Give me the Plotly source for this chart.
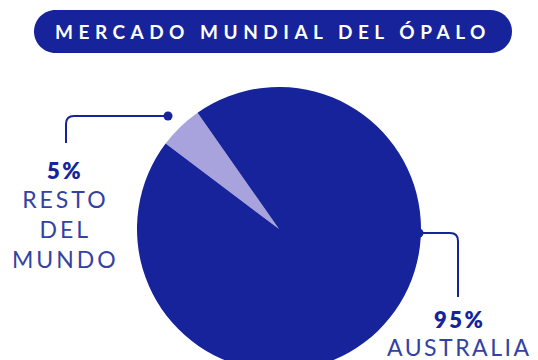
import plotly.graph_objects as go

# Opal world market shares (%)
labels = ["RESTO DEL MUNDO", "AUSTRALIA"]
shares = [5, 95]
title_text = "MERCADO MUNDIAL DEL ÓPALO"

BLUE = "#16239a"
LIGHT = "#a9a3dd"
TEXT_BLUE = "#3342a2"
FONT = "Lato"

W, H = 538, 374


def px(x):
    return x / W


def py(y):
    return 1 - y / H


# pie geometry in pixels
cx, cy, r = 279, 229, 142

fig = go.Figure(
    go.Pie(
        labels=labels,
        values=shares,
        sort=False,
        direction="clockwise",
        rotation=-53,
        marker=dict(colors=[LIGHT, BLUE], line=dict(width=0)),
        textinfo="none",
        hoverinfo="label+percent",
        showlegend=False,
        domain=dict(x=[px(cx - r), px(cx + r)], y=[py(cy + r), py(cy - r)]),
    )
)


def pill(x0, x1, y0, y1):
    rr = (y1 - y0) / 2
    k = 0.5523 * rr
    ym = (y0 + y1) / 2
    pts = [
        f"M{px(x0 + rr)},{py(y0)}",
        f"L{px(x1 - rr)},{py(y0)}",
        f"C{px(x1 - rr + k)},{py(y0)} {px(x1)},{py(ym - k)} {px(x1)},{py(ym)}",
        f"C{px(x1)},{py(ym + k)} {px(x1 - rr + k)},{py(y1)} {px(x1 - rr)},{py(y1)}",
        f"L{px(x0 + rr)},{py(y1)}",
        f"C{px(x0 + rr - k)},{py(y1)} {px(x0)},{py(ym + k)} {px(x0)},{py(ym)}",
        f"C{px(x0)},{py(ym - k)} {px(x0 + rr - k)},{py(y0)} {px(x0 + rr)},{py(y0)}",
        "Z",
    ]
    return " ".join(pts)


def leader(xa, ya, xb, yb, rad=8):
    # horizontal from the dot to the corner, then down to the label
    s = 1 if xb > xa else -1
    return (
        f"M{px(xa)},{py(ya)} L{px(xb - s * rad)},{py(ya)} "
        f"Q{px(xb)},{py(ya)} {px(xb)},{py(ya + rad)} L{px(xb)},{py(yb)}"
    )


shapes = [
    dict(type="path", xref="paper", yref="paper", path=pill(34, 512, 10, 53),
         fillcolor=BLUE, line=dict(width=0)),
    dict(type="path", xref="paper", yref="paper", path=leader(168, 116, 66, 143),
         line=dict(color=BLUE, width=2)),
    dict(type="path", xref="paper", yref="paper", path=leader(419, 233, 458, 297),
         line=dict(color=BLUE, width=2)),
]
for dx, dy in [(168, 116), (419, 233)]:
    shapes.append(dict(type="circle", xref="paper", yref="paper",
                       x0=px(dx - 4.5), x1=px(dx + 4.5), y0=py(dy + 4.5), y1=py(dy - 4.5),
                       fillcolor=BLUE, line=dict(width=0)))


def spaced(t, sp):
    return f'<span style="letter-spacing:{sp}px">{t}</span>'


def label(x, y, text, size, color, weight):
    return dict(x=px(x), y=py(y), xref="paper", yref="paper", showarrow=False,
                xanchor="center", yanchor="middle", text=text,
                font=dict(family=FONT, size=size, color=color, weight=weight))


annotations = [
    label(273, 31.5, spaced(title_text, 5.5), 19, "white", 700),
    label(65, 170, spaced(f"{shares[0]}%", 2.5), 22, BLUE, 800),
    label(65, 228.5, "<br>".join(spaced(w, 3) for w in labels[0].split()), 23, TEXT_BLUE, 400),
    label(459, 319, spaced(f"{shares[1]}%", 2.5), 22, BLUE, 800),
    label(459, 347, spaced(labels[1], 2.5), 23, TEXT_BLUE, 400),
]

fig.update_layout(
    width=W,
    height=H,
    margin=dict(l=0, r=0, t=0, b=0),
    paper_bgcolor="white",
    plot_bgcolor="white",
    shapes=shapes,
    annotations=annotations,
)

fig.write_html("out.html", post_script="document.body.style.overflow='hidden';")
